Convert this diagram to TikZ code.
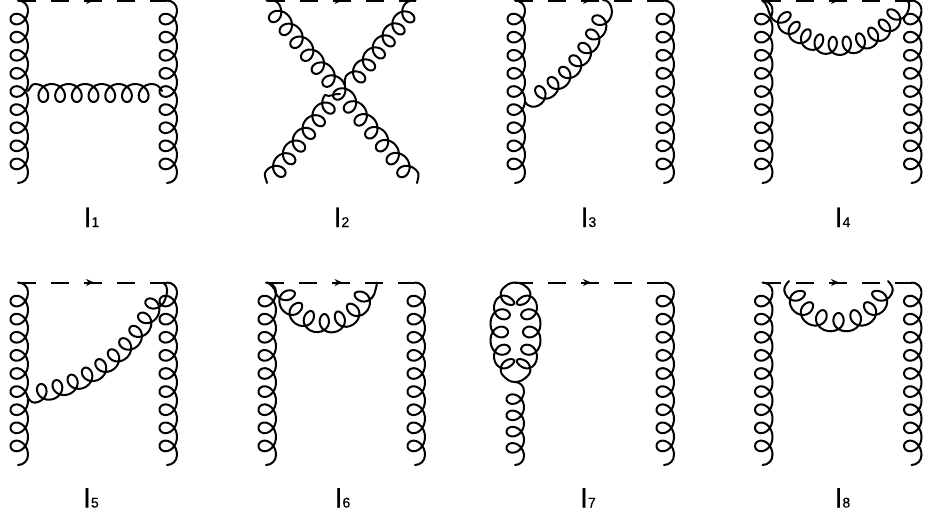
\documentclass[tikz,border=0pt]{standalone}
\usepackage{fontspec}
\setmainfont{Liberation Sans}
\newfontfamily\labfont[FakeBold=0.4]{Liberation Sans}
\usetikzlibrary{arrows.meta}
\tikzset{
  x=1pt,y=-1pt,
  line/.style={line width=2pt,line join=round,line cap=round,black},
  dashline/.style={line width=2pt,dash pattern=on 18pt off 15pt},
  arrowline/.style={line width=1.5pt,-{Stealth[length=8pt,width=7pt]}},
  lab/.style={anchor=base west,inner sep=0pt,font=\labfont\fontsize{28}{28}\selectfont},
}
% gluon along a straight line, loops to the left of the direction of travel
\newcommand{\glline}[4]{% from, to, loops, height
  \path (#1); \pgfgetlastxy{\gxa}{\gya};
  \path (#2); \pgfgetlastxy{\gxb}{\gyb};
  \pgfmathsetmacro\gxa{\gxa}\pgfmathsetmacro\gya{-\gya}
  \pgfmathsetmacro\gxb{\gxb}\pgfmathsetmacro\gyb{-\gyb}
  \pgfmathsetmacro\gl{veclen(\gxb-\gxa,\gyb-\gya)}
  \pgfmathsetmacro\gnx{(\gyb-\gya)/\gl}
  \pgfmathsetmacro\gny{-(\gxb-\gxa)/\gl}
  \pgfmathtruncatemacro\gsam{#3*24+1}
  \draw[line,
    declare function={gs(\u)=\u+.52/#3*sin(360*#3*\u);gv(\u)=#4*(1-cos(360*#3*\u))/2;}]
    plot[domain=0:1,samples=\gsam,variable=\gt]
    ({\gxa+(\gxb-\gxa)*gs(\gt)+\gnx*gv(\gt)},{\gya+(\gyb-\gya)*gs(\gt)+\gny*gv(\gt)});}
% gluon along an elliptic arc, loops inside; defines coordinates #1s, #1e
\newcommand{\glarc}[9]{% name, cx, cy, rx, ry, a0, a1, loops, height
  \coordinate (#1s) at ({#2+#4*cos(#6)},{#3+#5*sin(#6)});
  \coordinate (#1e) at ({#2+#4*cos(#7)},{#3+#5*sin(#7)});
  \pgfmathtruncatemacro\gsam{#8*24+1}
  \draw[line,
    declare function={gth(\u)=#6+(#7-#6)*(\u+.52/#8*sin(360*#8*\u));
      gv(\u)=#9*(1-cos(360*#8*\u))/2;
      gd(\a)=veclen(#5*cos(\a),#4*sin(\a));}]
    plot[domain=0:1,samples=\gsam,variable=\gt]
    ({#2+#4*cos(gth(\gt))-gv(\gt)*#5*cos(gth(\gt))/gd(gth(\gt))},
     {#3+#5*sin(gth(\gt))-gv(\gt)*#4*sin(gth(\gt))/gd(gth(\gt))});}
% vertical gluon with backbone at x=#2, in the row with top #3
\newcommand{\vgl}[3]{%
  \coordinate (#1a) at (#2-10,#3+183);
  \coordinate (#1b) at (#2,#3+173);
  \coordinate (#1c) at (#2,#3+10);
  \coordinate (#1d) at (#2-10,#3+0.5);
  \draw[line] (#1a) to[out=0,in=-90] (#1b);
  \glline{#1b}{#1c}{9}{17.5}
  \draw[line] (#1c) to[out=90,in=0] (#1d);}
\newcommand{\fermion}[4]{% from, to, arrow x, y
  \draw[dashline] (#1) -- (#2);
  \coordinate (#1p) at (#3-9,#4);
  \coordinate (#1q) at (#3+1,#4);
  \draw[arrowline] (#1p) -- (#1q);}
\newcommand{\lbl}[4]{\node[lab] (#1) at (#2,#3) {I{\fontsize{14}{14}\selectfont #4}};}
\begin{document}
\begin{tikzpicture}
\useasboundingbox (0,0) rectangle (925,517);
% ---- I1
\vgl{A}{28}{0}\vgl{B}{177}{0}
\fermion{Ad}{Bd}{93}{0.5}
\coordinate (a1) at (162,91);\coordinate (a2) at (152,84);\coordinate (a3) at (35,84);\coordinate (a4) at (28,91);
\draw[line] (a1) to[out=120,in=0] (a2);
\glline{a2}{a3}{7}{18}
\draw[line] (a3) to[out=180,in=50] (a4);
% ---- I2
\coordinate (C1) at (266.5,0.5);\coordinate (C2) at (278,3);\coordinate (C3) at (417,171);\coordinate (C4) at (417,183);
\coordinate (D1) at (415.5,0.5);\coordinate (D2) at (405,4);\coordinate (D3) at (346,76);\coordinate (D4) at (345,85);
\coordinate (D5) at (340,94);\coordinate (D6) at (325,95);\coordinate (D7) at (266,171);\coordinate (D8) at (267,183);
\fermion{C1}{D1}{341.5}{0.5}
\draw[line] (C4) to[out=80,in=-50] (C3);
\glline{C3}{C2}{13}{17.5}
\draw[line] (C2) to[out=130,in=0] (C1);
\draw[line] (D1) to[out=180,in=50] (D2);
\glline{D2}{D3}{6}{17.5}
\draw[line] (D3) to[out=-130,in=90] (D4);
\draw[line] (D5) to[out=170,in=-30] (D6);
\glline{D6}{D7}{6}{17.5}
\draw[line] (D7) to[out=-130,in=100] (D8);
% ---- I3
\vgl{E}{525}{0}\vgl{F}{674}{0}
\fermion{Ed}{Fd}{590}{0.5}
\coordinate (e1) at (525,102);\coordinate (e4) at (603,0);
\glarc{e}{459}{-33.3}{160}{160}{60}{18}{7}{17}
\draw[line] (e1) to[out=-60,in=210] (es);
\draw[line] (ee) to[out=72,in=0] (e4);
% ---- I4
\vgl{G}{772.5}{0}\vgl{H}{921.5}{0}
\fermion{Gd}{Hd}{838}{0.5}
\coordinate (g1) at (762,0.5);\coordinate (g5) at (906,0.5);
\glarc{g}{838}{-23}{78}{78}{149}{28}{10}{18}
\draw[line] (g1) to[out=-30,in=120] (gs);
\draw[line] (ge) to[out=60,in=0] (g5);
% ---- I5
\vgl{J}{28}{282}\vgl{K}{177}{282}
\fermion{Jd}{Kd}{93}{282.5}
\coordinate (j1) at (27,396);\coordinate (j4) at (163,282.5);
\glarc{j}{12.6}{240.7}{163.5}{163.5}{82}{21.3}{10}{17.5}
\draw[line] (j1) to[out=-60,in=188] (js);
\draw[line] (je) to[out=69,in=-30] (j4);
% ---- I6
\vgl{L}{276}{282}\vgl{M}{425}{282}
\fermion{Ld}{Md}{341.5}{282.5}
\coordinate (l1) at (268,282.5);\coordinate (l5) at (377,282.5);
\glarc{l}{325}{282}{51}{51}{172}{10}{7}{19}
\draw[line] (l1) to[out=-60,in=105] (ls);
\draw[line] (le) to[out=80,in=-90] (l5);
% ---- I7
\vgl{N}{674}{282}
\coordinate (Nt) at (515,282.5);\coordinate (Nb) at (515,382);
\fermion{Nt}{Nd}{590}{282.5}
\glarc{nl}{515.5}{332}{25.5}{50}{240}{120}{5}{18}
\glarc{nr}{515.5}{332}{25.5}{50}{-60}{60}{5}{18}
\draw[line] (Nt) to[out=180,in=45] (nls);
\draw[line] (nle) to[out=-45,in=180] (Nb);
\draw[line] (Nt) to[out=0,in=135] (nrs);
\draw[line] (nre) to[out=-135,in=0] (Nb);
\coordinate (n8) at (524,391);\coordinate (n9) at (524,456);\coordinate (n10) at (515,465);
\draw[line] (n10) to[out=0,in=-90] (n9);
\glline{n9}{n8}{4}{17.5}
\draw[line] (n8) to[out=90,in=0] (Nb);
% ---- I8
\vgl{P}{772.5}{282}\vgl{Q}{921.5}{282}
\fermion{Pd}{Qd}{838}{282.5}
\coordinate (p1) at (789,281);\coordinate (p5) at (888,281);
\glarc{p}{838.5}{282}{55}{50}{170}{10}{7}{19}
\draw[line] (p1) to[out=-130,in=95] (ps);
\draw[line] (pe) to[out=85,in=-50] (p5);
% ---- labels
\lbl{t1}{83.5}{227}{1}\lbl{t2}{333.5}{227}{2}\lbl{t3}{580.5}{227}{3}\lbl{t4}{834.5}{227}{4}
\lbl{t5}{83}{507.5}{5}\lbl{t6}{334.5}{507.5}{6}\lbl{t7}{580}{507.5}{7}\lbl{t8}{834.5}{507.5}{8}
\end{tikzpicture}
\end{document}
